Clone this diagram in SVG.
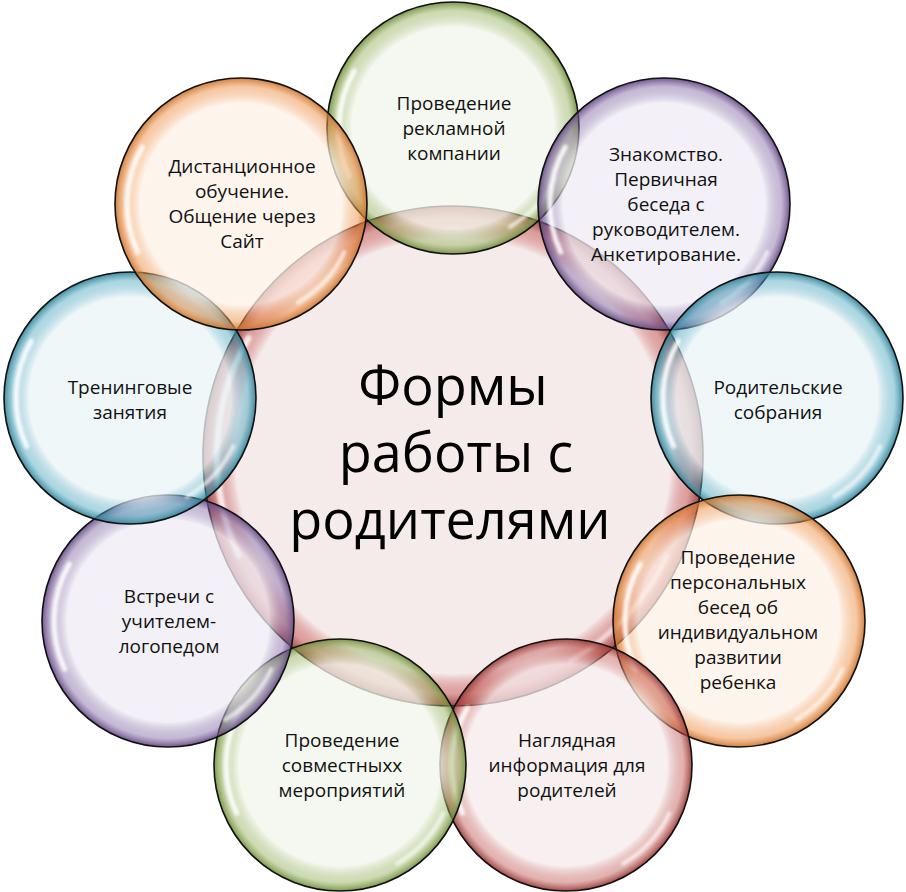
<svg xmlns="http://www.w3.org/2000/svg" xmlns:xlink="http://www.w3.org/1999/xlink" width="906" height="892" viewBox="0 0 906 892">
<style>
.lbl{font-family:"Open Sans","Noto Sans","DejaVu Sans",sans-serif;font-size:19px;fill:#111;text-anchor:middle}
.title{font-family:"Open Sans","Noto Sans","DejaVu Sans",sans-serif;font-size:54px;fill:#000;text-anchor:middle}
.rim{stroke:#111;stroke-width:1.6}
.hl{fill:none;stroke:#fff;stroke-linecap:round;filter:url(#blur)}
</style>
<defs>
<filter id="blur" x="-20%" y="-20%" width="140%" height="140%"><feGaussianBlur stdDeviation="1.4"/></filter>
<radialGradient id="gGreen"><stop offset="0" stop-color="#F2F6EB" stop-opacity="0.78"/><stop offset="0.8" stop-color="#F2F6EB" stop-opacity="0.75"/><stop offset="0.93" stop-color="#8FAD55" stop-opacity="0.45"/><stop offset="1" stop-color="#6F8C3A" stop-opacity="0.9"/></radialGradient>
<radialGradient id="gPurple"><stop offset="0" stop-color="#EFECF4" stop-opacity="0.78"/><stop offset="0.8" stop-color="#EFECF4" stop-opacity="0.75"/><stop offset="0.93" stop-color="#7E63A0" stop-opacity="0.45"/><stop offset="1" stop-color="#5F4680" stop-opacity="0.9"/></radialGradient>
<radialGradient id="gBlue"><stop offset="0" stop-color="#EAF4F7" stop-opacity="0.78"/><stop offset="0.8" stop-color="#EAF4F7" stop-opacity="0.75"/><stop offset="0.93" stop-color="#45A3BC" stop-opacity="0.45"/><stop offset="1" stop-color="#2C7F95" stop-opacity="0.9"/></radialGradient>
<radialGradient id="gOrange"><stop offset="0" stop-color="#FDF1E7" stop-opacity="0.78"/><stop offset="0.8" stop-color="#FDF1E7" stop-opacity="0.75"/><stop offset="0.93" stop-color="#EE9148" stop-opacity="0.5"/><stop offset="1" stop-color="#C9722C" stop-opacity="0.9"/></radialGradient>
<radialGradient id="gRed"><stop offset="0" stop-color="#F6EBEB" stop-opacity="0.78"/><stop offset="0.8" stop-color="#F6EBEB" stop-opacity="0.75"/><stop offset="0.93" stop-color="#BD5450" stop-opacity="0.45"/><stop offset="1" stop-color="#943633" stop-opacity="0.9"/></radialGradient>
<radialGradient id="gCenter"><stop offset="0" stop-color="#F5EAEA" stop-opacity="0.95"/><stop offset="0.87" stop-color="#F5EAEA" stop-opacity="0.95"/><stop offset="0.95" stop-color="#C0504D" stop-opacity="0.55"/><stop offset="1" stop-color="#943633" stop-opacity="0.9"/></radialGradient>
<g id="hl">
<path class="hl" d="M -98.7 -57 A 114 114 0 0 0 -103.3 48.2" stroke-width="5" stroke-opacity="0.9"/>
<path class="hl" d="M 103.3 48.2 A 114 114 0 0 1 57 98.7" stroke-width="4" stroke-opacity="0.7"/>
</g>
</defs>

<g id="center">
<circle class="rim" cx="453" cy="456" r="250" fill="url(#gCenter)"/>
<path class="hl" d="M 248.6 338 A 236 236 0 0 0 239.1 555.7" stroke-width="6" stroke-opacity="0.8"/>
<path class="hl" d="M 666.9 555.7 A 236 236 0 0 1 571 660.4" stroke-width="5" stroke-opacity="0.6"/>
<text class="title" x="453" y="405">Формы</text>
<text class="title" x="456" y="472">работы с</text>
<text class="title" x="450" y="539">родителями</text>
</g>

<g id="n1">
<circle class="rim" cx="453" cy="128" r="126" fill="url(#gGreen)"/>
<use href="#hl" transform="translate(453,128)"/>
<text class="lbl" x="454" y="110">Проведение</text>
<text class="lbl" x="454" y="135">рекламной</text>
<text class="lbl" x="454" y="160">компании</text>
</g>

<g id="n2">
<circle class="rim" cx="664" cy="204" r="126" fill="url(#gPurple)"/>
<use href="#hl" transform="translate(664,204)"/>
<text class="lbl" x="666" y="161">Знакомство.</text>
<text class="lbl" x="666" y="186">Первичная</text>
<text class="lbl" x="666" y="211">беседа с</text>
<text class="lbl" x="666" y="236">руководителем.</text>
<text class="lbl" x="666" y="261">Анкетирование.</text>
</g>

<g id="n3">
<circle class="rim" cx="777" cy="398" r="126" fill="url(#gBlue)"/>
<use href="#hl" transform="translate(777,398)"/>
<text class="lbl" x="778" y="394">Родительские</text>
<text class="lbl" x="778" y="419">собрания</text>
</g>

<g id="n4">
<circle class="rim" cx="739" cy="621" r="126" fill="url(#gOrange)"/>
<use href="#hl" transform="translate(739,621)"/>
<text class="lbl" x="738" y="564">Проведение</text>
<text class="lbl" x="738" y="589">персональных</text>
<text class="lbl" x="738" y="614">бесед об</text>
<text class="lbl" x="738" y="639">индивидуальном</text>
<text class="lbl" x="738" y="664">развитии</text>
<text class="lbl" x="738" y="689">ребенка</text>
</g>

<g id="n5">
<circle class="rim" cx="566" cy="765" r="126" fill="url(#gRed)"/>
<use href="#hl" transform="translate(566,765)"/>
<text class="lbl" x="567" y="747">Наглядная</text>
<text class="lbl" x="567" y="772">информация для</text>
<text class="lbl" x="567" y="797">родителей</text>
</g>

<g id="n6">
<circle class="rim" cx="340" cy="765" r="126" fill="url(#gGreen)"/>
<use href="#hl" transform="translate(340,765)"/>
<text class="lbl" x="342" y="747">Проведение</text>
<text class="lbl" x="342" y="772">совместныхх</text>
<text class="lbl" x="342" y="797">мероприятий</text>
</g>

<g id="n7">
<circle class="rim" cx="168" cy="621" r="126" fill="url(#gPurple)"/>
<use href="#hl" transform="translate(168,621)"/>
<text class="lbl" x="169" y="603">Встречи с</text>
<text class="lbl" x="169" y="628">учителем-</text>
<text class="lbl" x="169" y="653">логопедом</text>
</g>

<g id="n8">
<circle class="rim" cx="130" cy="398" r="126" fill="url(#gBlue)"/>
<use href="#hl" transform="translate(130,398)"/>
<text class="lbl" x="130" y="394">Тренинговые</text>
<text class="lbl" x="130" y="419">занятия</text>
</g>

<g id="n9">
<circle class="rim" cx="241" cy="204" r="126" fill="url(#gOrange)"/>
<use href="#hl" transform="translate(241,204)"/>
<text class="lbl" x="242" y="173">Дистанционное</text>
<text class="lbl" x="242" y="198">обучение.</text>
<text class="lbl" x="242" y="223">Общение через</text>
<text class="lbl" x="242" y="248">Сайт</text>
</g>

<g id="connectors"/>
</svg>
